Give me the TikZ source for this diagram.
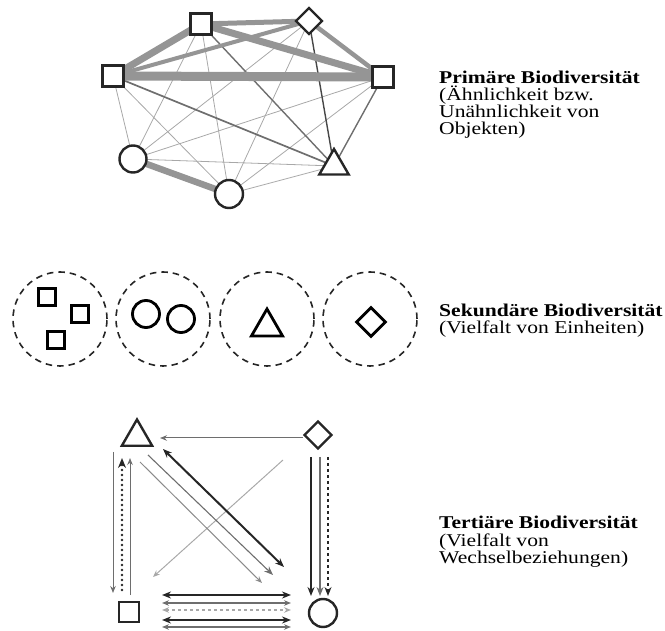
\documentclass[tikz,border=0pt]{standalone}
\usepackage{fontspec}
\setmainfont{Liberation Serif}[FakeStretch=1.2]
\usetikzlibrary{shapes.geometric,arrows.meta,calc}
\definecolor{dk}{HTML}{262626}
\definecolor{md}{HTML}{6E6E6E}
\definecolor{lt}{HTML}{A8A8A8}
\definecolor{eg}{HTML}{959595}
\begin{document}
\begin{tikzpicture}[x=1pt,y=-1pt,
  shp/.style={draw=dk, line width=2.4pt, fill=white, inner sep=0pt},
  sq/.style={shp, rectangle, minimum size=21pt},
  ci/.style={shp, circle, minimum size=27pt},
  di/.style={shp, diamond, minimum width=27pt, minimum height=27pt},
  tr/.style={shp, regular polygon, regular polygon sides=3, minimum size=34pt},
  sshp/.style={shp, draw=black, line width=2.8pt},
  dcirc/.style={draw=black!85, line width=1.6pt, dash pattern=on 6.5pt off 5pt, circle, minimum size=94pt, inner sep=0pt},
  edge/.style={draw=eg, line width=#1},
  thin/.style={draw=lt, line width=0.8pt},
  lbl/.style={anchor=base west, inner sep=0pt, font=\fontsize{18}{17}\selectfont},
  lblb/.style={lbl, font=\fontsize{18}{17}\selectfont\bfseries},
  tipd/.style={-{Stealth[length=9pt,width=7pt]}},
  tipl/.style={-{Stealth[length=7pt,width=5.5pt]}},
  tipdd/.style={{Stealth[length=9pt,width=7pt]}-{Stealth[length=9pt,width=7pt]}},
  tipll/.style={{Stealth[length=7pt,width=5.5pt]}-{Stealth[length=7pt,width=5.5pt]}}
]
\useasboundingbox (0,0) rectangle (665,631);

% ---------- Primary ----------
\coordinate (A) at (113,76);
\coordinate (B) at (201,24);
\coordinate (C) at (309,21);
\coordinate (D) at (383,77);
\coordinate (E) at (334,166);
\coordinate (F) at (229,194);
\coordinate (G) at (133,159);
% thin edges
\foreach \u/\v in {A/G,A/F,B/G,B/F,C/G,C/F,D/G,D/F,E/F,E/G}
  \draw[thin] (\u) -- (\v);
\draw[draw=md, line width=1.7pt] (A) -- (E);
\draw[draw=md, line width=1.4pt] (B) -- (E);
\draw[draw=dk!85, line width=1.4pt] (C) -- (E);
\draw[draw=md, line width=1.4pt] (D) -- (E);
% thick edges
\draw[edge=9pt] (A) -- (D);
\draw[edge=7pt] (A) -- (B);
\draw[edge=7pt] (B) -- (D);
\draw[edge=4pt] (A) -- (C);
\draw[edge=5pt] (B) -- (C);
\draw[edge=4.5pt] (C) -- (D);
\draw[edge=6.5pt] (G) -- (F);
% nodes
\node[sq] (pA) at (A) {};
\node[sq] (pB) at (B) {};
\node[di] (pC) at (C) {};
\node[sq] (pD) at (D) {};
\node[tr] (pE) at (E) {};
\node[ci, minimum size=28pt] (pF) at (F) {};
\node[ci] (pG) at (G) {};

\node[lblb] (t1a) at (439,84) {Primäre Biodiversität};
\node[lbl] (t1b) at (439,101) {(Ähnlichkeit bzw.};
\node[lbl] (t1c) at (439,118) {Unähnlichkeit von};
\node[lbl] (t1d) at (439,135) {Objekten)};

% ---------- Secondary ----------
\node[dcirc] (g1) at (60,319) {};
\node[dcirc] (g2) at (163,319) {};
\node[dcirc] (g3) at (267,319) {};
\node[dcirc] (g4) at (370,319) {};
\node[sshp, rectangle, minimum size=17pt] (s1) at (47,297) {};
\node[sshp, rectangle, minimum size=17pt] (s2) at (80,314) {};
\node[sshp, rectangle, minimum size=17pt] (s3) at (56,340) {};
\node[sshp, circle, minimum size=27pt] (s4) at (146,314) {};
\node[sshp, circle, minimum size=27pt] (s5) at (181,319) {};
\node[sshp, regular polygon, regular polygon sides=3, minimum size=36pt] (s6) at (267,327) {};
\node[sshp, diamond, minimum width=30pt, minimum height=30pt] (s7) at (371,322) {};

\node[lblb] (t2a) at (439,317) {Sekundäre Biodiversität};
\node[lbl] (t2b) at (439,334) {(Vielfalt von Einheiten)};

% ---------- Tertiary ----------
\node[tr, minimum size=35pt] (tri) at (137,437) {};
\node[di, minimum width=28pt, minimum height=28pt] (dia) at (318,435) {};
\node[sq, minimum size=20pt] (sqr) at (129,612) {};
\node[ci, minimum size=28pt] (cir) at (323,613) {};

% diamond -> triangle
\draw[draw=md, line width=1pt, tipl] ($(dia)+(-15,3)$) -- ($(tri)+(23,1)$);
% diamond -> square (light diagonal)
\draw[draw=lt, line width=1pt, tipl] ($(dia)+(-35,25)$) -- ($(sqr)+(24,-35)$);
% left verticals
\draw[draw=md, line width=1pt, tipl] ($(tri)+(-24,15)$) -- ($(sqr)+(-16,-19)$);
\draw[draw=dk, line width=2.6pt, line cap=round, dash pattern=on 0pt off 5pt, -{Stealth[length=10pt,width=8pt]}] ($(sqr)+(-7,-22)$) -- ($(tri)+(-15,21)$);
\draw[draw=md, line width=1pt, tipl] ($(sqr)+(1,-17)$) -- ($(tri)+(-7,21)$);
% right verticals
\draw[draw=dk, line width=1.5pt, tipd] ($(dia)+(-7,22)$) -- ($(cir)+(-12,-17)$);
\draw[draw=md, line width=1.1pt, tipd] ($(dia)+(2,22)$) -- ($(cir)+(-3,-17)$);
\draw[draw=dk, line width=1.3pt, dashed, tipd] ($(dia)+(10,22)$) -- ($(cir)+(5,-17)$);
% triangle <-> circle diagonals
\draw[draw=dk, line width=2pt, tipdd] ($(tri)+(26,12)$) -- ($(cir)+(-39,-46)$);
\draw[draw=md, line width=1.1pt, tipd] ($(tri)+(11,18)$) -- ($(cir)+(-50,-38)$);
\draw[draw=md!80, line width=1pt, tipl] ($(tri)+(3,25)$) -- ($(cir)+(-61,-30)$);
% bottom horizontals
\draw[draw=dk, line width=1.5pt, tipdd] ($(sqr)+(33,-17)$) -- ($(cir)+(-32,-18)$);
\draw[draw=md, line width=1.1pt, tipll] ($(sqr)+(33,-9)$) -- ($(cir)+(-32,-10)$);
\draw[draw=lt, line width=1.1pt, dashed, tipll] ($(sqr)+(33,-2)$) -- ($(cir)+(-32,-3)$);
\draw[draw=dk, line width=2pt, tipdd] ($(sqr)+(33,8)$) -- ($(cir)+(-32,7)$);
\draw[draw=md, line width=1.1pt, tipll] ($(sqr)+(33,15)$) -- ($(cir)+(-32,14)$);

\node[lblb] (t3a) at (439,529) {Tertiäre Biodiversität};
\node[lbl] (t3b) at (439,546) {(Vielfalt von};
\node[lbl] (t3c) at (439,563) {Wechselbeziehungen)};
\end{tikzpicture}
\end{document}
